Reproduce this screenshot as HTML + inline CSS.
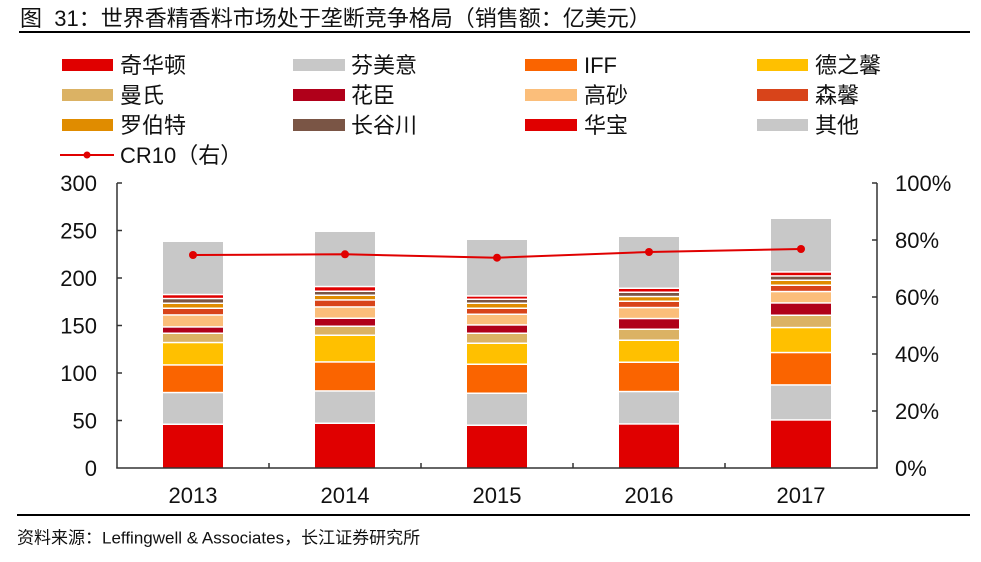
<!DOCTYPE html>
<html><head><meta charset="utf-8">
<style>
html,body{margin:0;padding:0;background:#fff;}
svg{display:block;}
text{font-family:"Liberation Sans","Noto Sans CJK SC",sans-serif;fill:#111;}
</style></head>
<body>
<svg width="981" height="562" viewBox="0 0 981 562" xmlns="http://www.w3.org/2000/svg">
<!-- title -->
<text x="20" y="26" font-size="22" xml:space="preserve">图  31：世界香精香料市场处于垄断竞争格局（销售额：亿美元）</text>
<rect x="19" y="31" width="951" height="2" fill="#000"/>

<!-- legend -->
<g font-size="22">
<rect x="62" y="59" width="51" height="12" fill="#E00000"/><text x="120" y="73">奇华顿</text>
<rect x="293" y="59" width="52" height="12" fill="#C8C8C8"/><text x="351" y="73">芬美意</text>
<rect x="525" y="59" width="52" height="12" fill="#FA6400"/><text x="584" y="73">IFF</text>
<rect x="757" y="59" width="51" height="12" fill="#FFC000"/><text x="815" y="73">德之馨</text>

<rect x="62" y="89" width="51" height="12" fill="#DBB264"/><text x="120" y="103">曼氏</text>
<rect x="293" y="89" width="52" height="12" fill="#B0001A"/><text x="351" y="103">花臣</text>
<rect x="525" y="89" width="52" height="12" fill="#FBBE7A"/><text x="584" y="103">高砂</text>
<rect x="757" y="89" width="51" height="12" fill="#D8441A"/><text x="815" y="103">森馨</text>

<rect x="62" y="119" width="51" height="12" fill="#E08C00"/><text x="120" y="133">罗伯特</text>
<rect x="293" y="119" width="52" height="12" fill="#7A5545"/><text x="351" y="133">长谷川</text>
<rect x="525" y="119" width="52" height="12" fill="#E00000"/><text x="584" y="133">华宝</text>
<rect x="757" y="119" width="51" height="12" fill="#C8C8C8"/><text x="815" y="133">其他</text>

<line x1="60" y1="155" x2="114" y2="155" stroke="#E00000" stroke-width="2"/>
<circle cx="87" cy="155" r="3.5" fill="#E00000"/>
<text x="120" y="163">CR10（右）</text>
</g>

<!-- bars -->
<g>
<!-- 2013 -->
<rect x="163" y="425" width="60" height="43" fill="#E00000"/>
<rect x="163" y="393.3" width="60" height="30.2" fill="#C8C8C8"/>
<rect x="163" y="365.7" width="60" height="26.1" fill="#FA6400"/>
<rect x="163" y="343.3" width="60" height="20.9" fill="#FFC000"/>
<rect x="163" y="334" width="60" height="7.8" fill="#DBB264"/>
<rect x="163" y="327.7" width="60" height="4.8" fill="#B0001A"/>
<rect x="163" y="315.7" width="60" height="10.5" fill="#FBBE7A"/>
<rect x="163" y="309" width="60" height="5.2" fill="#D8441A"/>
<rect x="163" y="304" width="60" height="3.5" fill="#E08C00"/>
<rect x="163" y="299.3" width="60" height="3.2" fill="#7A5545"/>
<rect x="163" y="295.3" width="60" height="2.5" fill="#E00000"/>
<rect x="163" y="242" width="60" height="51.8" fill="#C8C8C8"/>
<!-- 2014 -->
<rect x="315" y="424" width="60" height="44" fill="#E00000"/>
<rect x="315" y="391.7" width="60" height="30.8" fill="#C8C8C8"/>
<rect x="315" y="362.7" width="60" height="27.5" fill="#FA6400"/>
<rect x="315" y="336" width="60" height="25.2" fill="#FFC000"/>
<rect x="315" y="327" width="60" height="7.5" fill="#DBB264"/>
<rect x="315" y="319" width="60" height="6.5" fill="#B0001A"/>
<rect x="315" y="307.7" width="60" height="9.8" fill="#FBBE7A"/>
<rect x="315" y="300.7" width="60" height="5.5" fill="#D8441A"/>
<rect x="315" y="296" width="60" height="3.2" fill="#E08C00"/>
<rect x="315" y="292" width="60" height="2.5" fill="#7A5545"/>
<rect x="315" y="287.3" width="60" height="3.2" fill="#E00000"/>
<rect x="315" y="232" width="60" height="53.8" fill="#C8C8C8"/>
<!-- 2015 -->
<rect x="467" y="426" width="60" height="42" fill="#E00000"/>
<rect x="467" y="394" width="60" height="30.5" fill="#C8C8C8"/>
<rect x="467" y="365" width="60" height="27.5" fill="#FA6400"/>
<rect x="467" y="344" width="60" height="19.5" fill="#FFC000"/>
<rect x="467" y="334" width="60" height="8.5" fill="#DBB264"/>
<rect x="467" y="325.7" width="60" height="6.8" fill="#B0001A"/>
<rect x="467" y="315" width="60" height="9.2" fill="#FBBE7A"/>
<rect x="467" y="309" width="60" height="4.5" fill="#D8441A"/>
<rect x="467" y="304" width="60" height="3.5" fill="#E08C00"/>
<rect x="467" y="300" width="60" height="2.5" fill="#7A5545"/>
<rect x="467" y="296.7" width="60" height="1.8" fill="#E00000"/>
<rect x="467" y="240" width="60" height="55.2" fill="#C8C8C8"/>
<!-- 2016 -->
<rect x="619" y="424.7" width="60" height="43.3" fill="#E00000"/>
<rect x="619" y="392.3" width="60" height="30.9" fill="#C8C8C8"/>
<rect x="619" y="363" width="60" height="27.8" fill="#FA6400"/>
<rect x="619" y="341" width="60" height="20.5" fill="#FFC000"/>
<rect x="619" y="330" width="60" height="9.5" fill="#DBB264"/>
<rect x="619" y="319.3" width="60" height="9.2" fill="#B0001A"/>
<rect x="619" y="308.3" width="60" height="9.5" fill="#FBBE7A"/>
<rect x="619" y="302" width="60" height="4.8" fill="#D8441A"/>
<rect x="619" y="297.3" width="60" height="3.2" fill="#E08C00"/>
<rect x="619" y="293" width="60" height="2.8" fill="#7A5545"/>
<rect x="619" y="289" width="60" height="2.5" fill="#E00000"/>
<rect x="619" y="237" width="60" height="50.5" fill="#C8C8C8"/>
<!-- 2017 -->
<rect x="771" y="420.7" width="60" height="47.3" fill="#E00000"/>
<rect x="771" y="385.7" width="60" height="33.5" fill="#C8C8C8"/>
<rect x="771" y="353.3" width="60" height="30.9" fill="#FA6400"/>
<rect x="771" y="328.3" width="60" height="23.5" fill="#FFC000"/>
<rect x="771" y="316" width="60" height="10.8" fill="#DBB264"/>
<rect x="771" y="303.7" width="60" height="10.8" fill="#B0001A"/>
<rect x="771" y="292.3" width="60" height="9.9" fill="#FBBE7A"/>
<rect x="771" y="286" width="60" height="4.8" fill="#D8441A"/>
<rect x="771" y="281" width="60" height="3.5" fill="#E08C00"/>
<rect x="771" y="276.7" width="60" height="2.8" fill="#7A5545"/>
<rect x="771" y="272.7" width="60" height="2.5" fill="#E00000"/>
<rect x="771" y="219" width="60" height="52.2" fill="#C8C8C8"/>
</g>

<!-- axes -->
<g stroke="#333" stroke-width="1.5" fill="none">
<line x1="117" y1="183" x2="117" y2="468.5"/>
<line x1="877" y1="183" x2="877" y2="468.5"/>
<line x1="116.3" y1="468" x2="877.7" y2="468"/>
<!-- left ticks -->
<line x1="117" y1="183" x2="122" y2="183"/>
<line x1="117" y1="230.5" x2="122" y2="230.5"/>
<line x1="117" y1="278" x2="122" y2="278"/>
<line x1="117" y1="325.5" x2="122" y2="325.5"/>
<line x1="117" y1="373" x2="122" y2="373"/>
<line x1="117" y1="420.5" x2="122" y2="420.5"/>
<!-- right ticks -->
<line x1="872" y1="183" x2="877" y2="183"/>
<line x1="872" y1="240" x2="877" y2="240"/>
<line x1="872" y1="297" x2="877" y2="297"/>
<line x1="872" y1="354" x2="877" y2="354"/>
<line x1="872" y1="411" x2="877" y2="411"/>
<!-- category ticks -->
<line x1="269" y1="463" x2="269" y2="468"/>
<line x1="421" y1="463" x2="421" y2="468"/>
<line x1="573" y1="463" x2="573" y2="468"/>
<line x1="725" y1="463" x2="725" y2="468"/>
</g>

<!-- CR10 line -->
<polyline points="193,255 345,254.3 497,257.7 649,252 801,249" fill="none" stroke="#E00000" stroke-width="2"/>
<g fill="#E00000">
<circle cx="193" cy="255" r="4"/>
<circle cx="345" cy="254.3" r="4"/>
<circle cx="497" cy="257.7" r="4"/>
<circle cx="649" cy="252" r="4"/>
<circle cx="801" cy="249" r="4"/>
</g>

<!-- left labels -->
<g font-size="22" text-anchor="end">
<text x="97" y="191">300</text>
<text x="97" y="238.5">250</text>
<text x="97" y="286">200</text>
<text x="97" y="333.5">150</text>
<text x="97" y="381">100</text>
<text x="97" y="428.5">50</text>
<text x="97" y="476">0</text>
</g>
<!-- right labels -->
<g font-size="22">
<text x="895" y="191">100%</text>
<text x="895" y="248">80%</text>
<text x="895" y="305">60%</text>
<text x="895" y="362">40%</text>
<text x="895" y="419">20%</text>
<text x="895" y="476">0%</text>
</g>
<!-- x labels -->
<g font-size="22" text-anchor="middle">
<text x="193" y="503">2013</text>
<text x="345" y="503">2014</text>
<text x="497" y="503">2015</text>
<text x="649" y="503">2016</text>
<text x="801" y="503">2017</text>
</g>

<!-- footer -->
<rect x="17" y="514" width="953" height="2" fill="#000"/>
<text x="17" y="543.5" font-size="17">资料来源：Leffingwell &amp; Associates，长江证券研究所</text>
</svg>
</body></html>
